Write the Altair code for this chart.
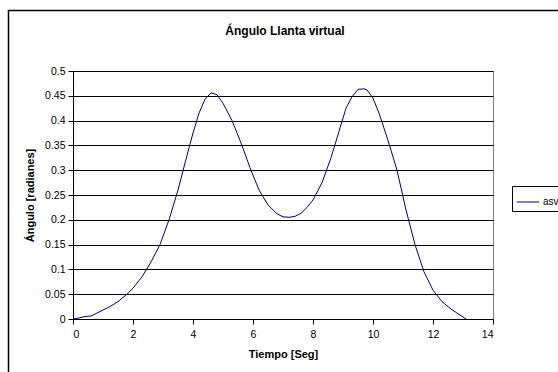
import altair as alt
import pandas as pd

# Virtual tyre angle over time
tiempo = [0.0, 0.2, 0.4, 0.6, 0.8, 1.0, 1.2, 1.5, 1.8, 2.0, 2.3, 2.6, 2.9, 3.2,
          3.5, 3.8, 4.0, 4.2, 4.4, 4.6, 4.8, 5.0, 5.3, 5.6, 5.9, 6.2, 6.5, 6.8,
          7.0, 7.2, 7.4, 7.6, 7.8, 8.0, 8.3, 8.6, 8.9, 9.1, 9.3, 9.5, 9.7, 9.8,
          10.0, 10.2, 10.5, 10.8, 11.1, 11.4, 11.7, 12.0, 12.3, 12.6, 12.9, 13.1]
angulo = [0.0, 0.002, 0.005, 0.006, 0.012, 0.018, 0.024, 0.035, 0.05, 0.062, 0.085, 0.115,
          0.15, 0.2, 0.26, 0.33, 0.375, 0.415, 0.443, 0.456, 0.452, 0.435, 0.4, 0.355,
          0.305, 0.26, 0.23, 0.212, 0.206, 0.205, 0.207, 0.213, 0.225, 0.24, 0.275, 0.325,
          0.385, 0.425, 0.448, 0.463, 0.464, 0.462, 0.445, 0.415, 0.36, 0.3, 0.22, 0.15,
          0.095, 0.058, 0.035, 0.02, 0.008, 0.0]
serie = "asv"

df = pd.DataFrame({"t": tiempo, "a": angulo, "serie": serie})

FONT = "Liberation Sans"

line = alt.Chart(df).mark_line(strokeWidth=1).encode(
    x=alt.X("t:Q",
            scale=alt.Scale(domain=[0, 14], nice=False),
            axis=alt.Axis(values=list(range(0, 15, 2)), title="Tiempo [Seg]",
                          grid=False, labelPadding=5, titlePadding=9)),
    y=alt.Y("a:Q",
            scale=alt.Scale(domain=[0, 0.5], nice=False),
            axis=alt.Axis(values=[round(i * 0.05, 2) for i in range(11)],
                          format=".2~f", title="Ángulo [radianes]",
                          grid=True, labelPadding=3, titlePadding=9)),
    color=alt.Color("serie:N",
                    scale=alt.Scale(range=["#000080"]),
                    legend=alt.Legend(title=None, orient="none",
                                      legendX=439, legendY=115,
                                      symbolType="stroke", symbolSize=500,
                                      symbolStrokeWidth=1,
                                      strokeColor="#000000", fillColor="#ffffff",
                                      padding=4, labelFont=FONT, labelFontSize=10,
                                      labelOffset=3)),
)

# Outer chart frame
frame = alt.Chart(alt.Data(values=[{}])).mark_rect(
    filled=False, stroke="#000000", strokeWidth=1.5
).encode(
    x=alt.value(-64.5), y=alt.value(-60.5), x2=alt.value(560), y2=alt.value(400)
)

chart = alt.layer(frame, line).properties(
    width=420,
    height=248,
    title=alt.TitleParams("Ángulo Llanta virtual", font=FONT, fontSize=12,
                          fontWeight="bold", anchor="middle", frame="group",
                          offset=-28, dx=2),
    padding={"left": 73, "top": 71, "right": 65, "bottom": 53},
    autosize=alt.AutoSizeParams(type="none"),
    background="#ffffff",
).configure_view(
    stroke="#808080", strokeWidth=1
).configure_axis(
    labelFont=FONT, labelFontSize=10.5, labelColor="#000000",
    titleFont=FONT, titleFontSize=11, titleFontWeight="bold", titleColor="#000000",
    domainColor="#000000", tickColor="#000000", tickSize=5,
    gridColor="#000000", gridOpacity=1, gridWidth=1,
)

chart.save("out.html", embed_options={"renderer": "svg", "actions": False})
